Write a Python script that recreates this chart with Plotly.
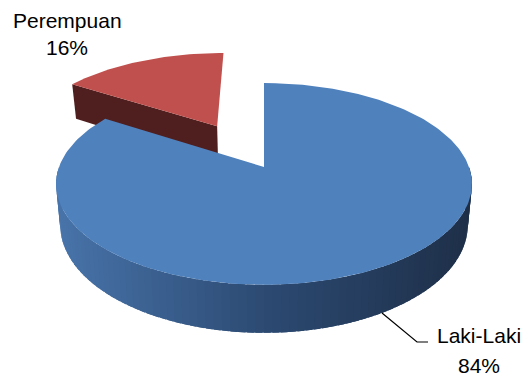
import numpy as np
import plotly.graph_objects as go

# ---- data ----
categories = ["Perempuan", "Laki-Laki"]
values = [16, 84]
pct_labels = ["16%", "84%"]

# ---- style / projection parameters ----
W, H = 528, 376
CX, CY = 264.0, 167.0      # apex (center) of pie on screen
KX, KY, KZ = 205.0, 98.0, 40.0
PERSP = 0.168
EXPLODE = [0.51, 0.0]
top_colors = ["#C0504D", "#4F81BD"]
side_colors = ["#4F1E1E", "#2F4D75"]


def proj(X, Yv, z):
    w = 1 - PERSP * Yv
    s = 1 - 0.02 * z
    return CX + KX * X * s / w, CY + (KY * Yv + KZ * z) / w


def pt(theta_deg, r, off, z):
    th = np.radians(theta_deg)
    X = r * np.cos(th) + off[0]
    Yv = -(r * np.sin(th) + off[1])
    return proj(X, Yv, z)


fig = go.Figure()


def poly(xs, ys, color, lw=0.0):
    fig.add_trace(go.Scatter(x=list(xs), y=list(ys), mode="lines", fill="toself",
                             fillcolor=color, line=dict(color=color, width=lw),
                             hoverinfo="skip", showlegend=False))


total = sum(values)
starts, ends = [], []
a = 90.0
for v in values:
    starts.append(a)
    a += 360.0 * v / total
    ends.append(a)

offsets = []
for i in range(len(values)):
    mid = np.radians((starts[i] + ends[i]) / 2)
    offsets.append((EXPLODE[i] * np.cos(mid), EXPLODE[i] * np.sin(mid)))

# ---- red (Perempuan) slice: radial side face then top ----
i = 0
off = offsets[i]
ax0, ay0 = pt(0, 0, off, 0)
ax1, ay1 = pt(0, 0, off, 1)
rx0, ry0 = pt(ends[i], 1, off, 0)
rx1, ry1 = pt(ends[i], 1, off, 1)
poly([ax0, rx0, rx1, ax1, ax0], [ay0, ry0, ry1, ay1, ay0], side_colors[i])
ths = np.linspace(starts[i], ends[i], 40)
xs, ys = [ax0], [ay0]
for t in ths:
    x, y = pt(t, 1, off, 0)
    xs.append(x); ys.append(y)
xs.append(ax0); ys.append(ay0)
poly(xs, ys, top_colors[i])

# ---- blue (Laki-Laki) slice: shaded outer side then top ----
i = 1
off = offsets[i]
stops_x = [57, 265, 473]
stops_c = [(72, 116, 170), (44, 74, 114), (30, 47, 72)]


def shade(x):
    r = np.interp(x, stops_x, [c[0] for c in stops_c])
    g = np.interp(x, stops_x, [c[1] for c in stops_c])
    b = np.interp(x, stops_x, [c[2] for c in stops_c])
    return "rgb(%d,%d,%d)" % (round(r), round(g), round(b))


edges = np.linspace(180, 360, 91)
step = edges[1] - edges[0]
for k in range(len(edges) - 1):
    t0 = edges[k]
    t1 = min(edges[k + 1] + step * 0.8, 360)
    sub = np.linspace(t0, t1, 4)
    top = [pt(t, 1, off, 0) for t in sub]
    bot = [pt(t, 1, off, 1) for t in sub[::-1]]
    pts = top + bot + [top[0]]
    xm = np.mean([pt(t, 1, off, 0)[0] for t in (edges[k], edges[k + 1])])
    poly([p[0] for p in pts], [p[1] for p in pts], shade(xm))

ths = np.linspace(starts[i], ends[i], 240)
bx0, by0 = pt(0, 0, off, 0)
xs, ys = [bx0], [by0]
for t in ths:
    x, y = pt(t, 1, off, 0)
    xs.append(x); ys.append(y)
xs.append(bx0); ys.append(by0)
poly(xs, ys, top_colors[i])

# ---- leader line for Laki-Laki ----
fig.add_trace(go.Scatter(x=[382, 417, 428], y=[313, 342, 342], mode="lines",
                         line=dict(color="black", width=1.2), hoverinfo="skip",
                         showlegend=False))

font = dict(family="Liberation Sans, Arial, sans-serif", size=21, color="black")
name_pos = [(67, 20), (479, 335)]
pct_pos = [(67, 47), (479, 365)]
for k in range(len(categories)):
    fig.add_annotation(x=name_pos[k][0], y=name_pos[k][1], xref="x", yref="y",
                       text=categories[k], showarrow=False, font=font,
                       xanchor="center", yanchor="middle")
    fig.add_annotation(x=pct_pos[k][0], y=pct_pos[k][1], xref="x", yref="y",
                       text=pct_labels[k], showarrow=False, font=font,
                       xanchor="center", yanchor="middle")

fig.update_layout(
    width=W, height=H, margin=dict(l=0, r=0, t=0, b=0),
    paper_bgcolor="white", plot_bgcolor="white",
    xaxis=dict(range=[0, W], visible=False, fixedrange=True),
    yaxis=dict(range=[H, 0], visible=False, fixedrange=True),
    showlegend=False,
)
fig.write_html("out.html")
